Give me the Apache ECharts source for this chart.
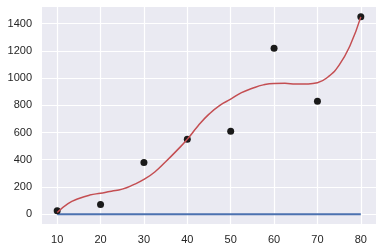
<!DOCTYPE html>
<html><head><meta charset="utf-8">
<script src="https://cdn.jsdelivr.net/npm/echarts@6/dist/echarts.min.js"></script>
<style>html,body{margin:0;padding:0;background:#fff}#c{width:383px;height:251px}</style>
</head><body><div id="c"></div>
<script>
const xPoints = [10, 20, 30, 40, 50, 60, 70, 80];
const yPoints = [25, 70, 380, 550, 610, 1220, 830, 1450];
const baseline = [0, 0, 0, 0, 0, 0, 0, 0];
const curveX = [10, 12.5, 15, 17.5, 20, 22.5, 25, 27.5, 30, 32.5, 35, 37.5, 40, 42.5, 45, 47.5, 50, 52.5, 55, 57.5, 60, 62.5, 65, 67.5, 70, 72.5, 75, 77.5, 80];
const curveY = [12, 78, 115, 140, 154, 168, 184, 215, 255, 310, 385, 465, 550, 650, 735, 800, 845, 893, 925, 950, 961, 962, 956, 957, 966, 1010, 1095, 1238, 1450];
const xTicks = [10, 20, 30, 40, 50, 60, 70, 80];
const yTicks = [0, 200, 400, 600, 800, 1000, 1200, 1400];

const font = "'Liberation Sans', Arial, sans-serif";
const chart = echarts.init(document.getElementById('c'), null, {renderer: 'canvas'});
const gridLine = {color: '#ffffff', width: 1.2, type: 'solid'};
chart.setOption({
  animation: false,
  backgroundColor: '#ffffff',
  grid: {left: 42, right: 7, top: 7, bottom: 27, show: true, backgroundColor: '#EAEAF2', borderWidth: 0, containLabel: false, outerBoundsMode: 'none'},
  xAxis: {
    type: 'value', min: 6.5, max: 83.5,
    axisLine: {show: false}, axisTick: {show: false}, splitLine: {show: false},
    axisLabel: {customValues: xTicks, margin: 10, color: '#262626', fontSize: 11, fontFamily: font, formatter: v => String(v)}
  },
  yAxis: {
    type: 'value', min: -72.5, max: 1522.5,
    axisLine: {show: false}, axisTick: {show: false}, splitLine: {show: false},
    axisLabel: {customValues: yTicks, margin: 10, color: '#262626', fontSize: 11, fontFamily: font, formatter: v => String(v)}
  },
  series: [
    {
      type: 'line', z: 1, data: [], silent: true, symbol: 'none',
      markLine: {
        z: 1, zlevel: 0,
        silent: true, symbol: ['none', 'none'], label: {show: false},
        lineStyle: gridLine, animation: false,
        data: xTicks.map(v => ({xAxis: v})).concat(yTicks.map(v => ({yAxis: v})))
      }
    },
    {
      type: 'line', z: 3, data: xPoints.map((x, i) => [x, baseline[i]]),
      symbol: 'none', lineStyle: {color: '#4C72B0', width: 2}
    },
    {
      type: 'scatter', z: 4, data: xPoints.map((x, i) => [x, yPoints[i]]),
      symbolSize: 7, itemStyle: {color: '#1a1a1a', opacity: 1}
    },
    {
      type: 'line', z: 5, data: curveX.map((x, i) => [x, curveY[i]]),
      smooth: 0.5, symbol: 'none', lineStyle: {color: '#C44E52', width: 1.5}
    }
  ]
});
</script></body></html>
